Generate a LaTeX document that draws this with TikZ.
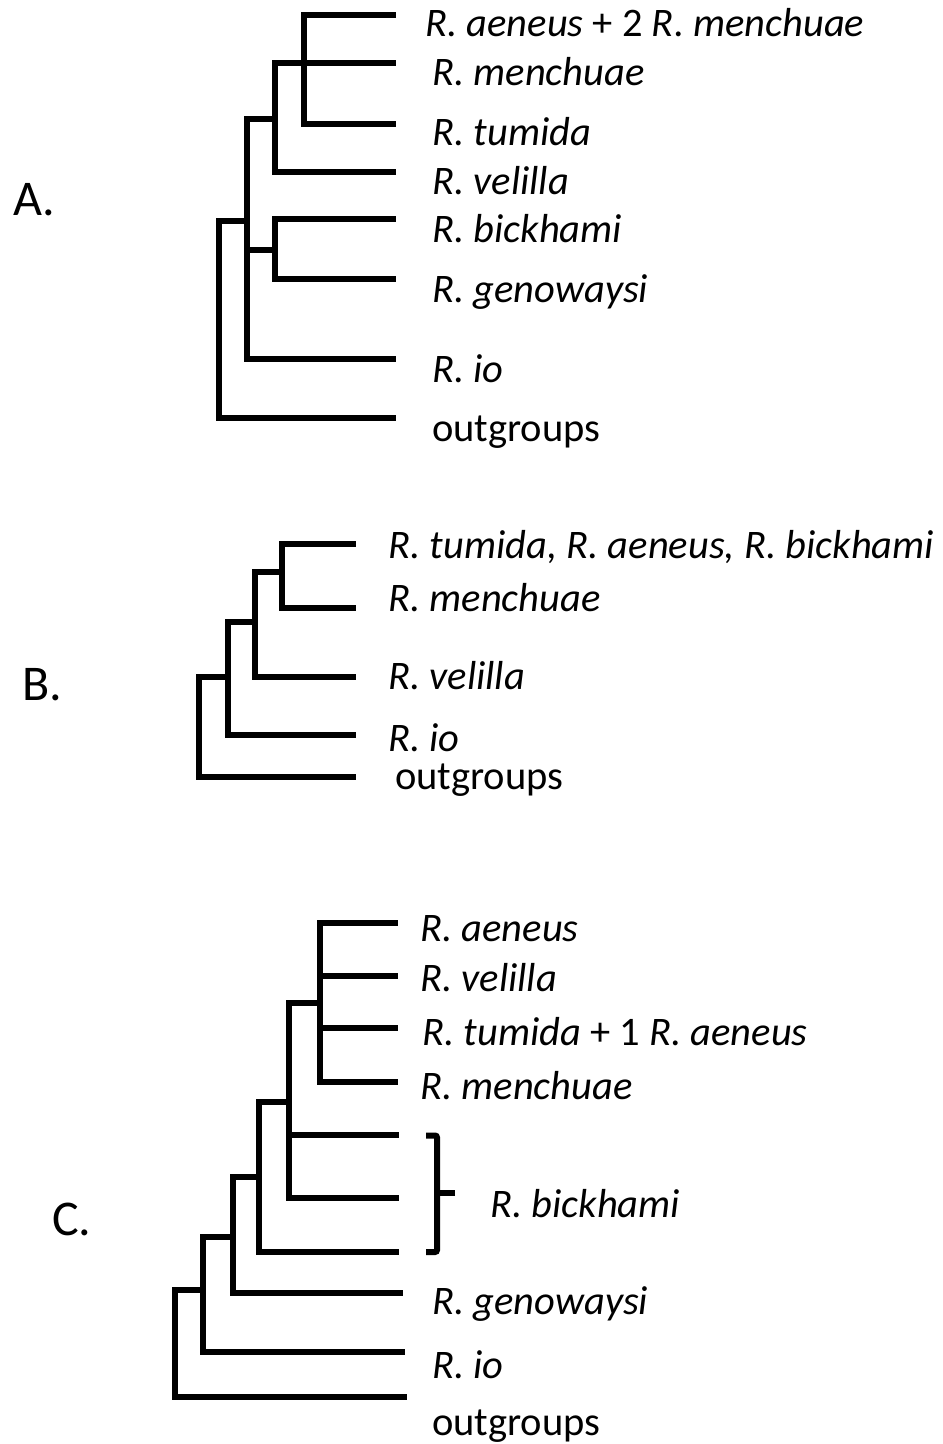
\documentclass[tikz,border=0pt]{standalone}
\usepackage{fontspec}
\setmainfont{Carlito}
\begin{document}
\begin{tikzpicture}[x=1pt,y=-1pt,
  branch/.style={line width=6.8pt, line cap=rect, line join=miter},
  bracket/.style={line width=6pt, line cap=butt, rounded corners=2pt},
  taxon/.style={anchor=base west, inner sep=0pt, font=\fontsize{40.5}{42}\selectfont\itshape},
  plain/.style={anchor=base west, inner sep=0pt, font=\fontsize{40.5}{42}\selectfont},
  panel/.style={anchor=base west, inner sep=0pt, font=\fontsize{50}{52}\selectfont}]
\useasboundingbox (0,0) rectangle (943,1444);

% ---------- Tree A ----------
\coordinate (rA)  at (219,221);
\coordinate (nA1) at (247,221);
\coordinate (nA2) at (275,119);
\coordinate (nA3) at (275,250);
\coordinate (nA4) at (304,63);
\coordinate (tA1) at (393,15);
\coordinate (tA2) at (393,63);
\coordinate (tA3) at (393,124);
\coordinate (tA4) at (393,172);
\coordinate (tA5) at (393,219);
\coordinate (tA6) at (393,279);
\coordinate (tA7) at (393,359);
\coordinate (tA8) at (393,418);

\draw[branch] (rA) |- (nA1);
\draw[branch] (rA) |- (tA8);
\draw[branch] (nA1) |- (nA2);
\draw[branch] (nA1) |- (nA3);
\draw[branch] (nA1) |- (tA7);
\draw[branch] (nA2) |- (nA4);
\draw[branch] (nA2) |- (tA2);
\draw[branch] (nA2) |- (tA4);
\draw[branch] (nA4) |- (tA1);
\draw[branch] (nA4) |- (tA3);
\draw[branch] (nA3) |- (tA5);
\draw[branch] (nA3) |- (tA6);

\node[panel] (labA) at (13,215) {A.};
\node[plain] (lA1) at (425,36) {\textit{R. aeneus} + 2 \textit{R. menchuae}};
\node[taxon] (lA2) at (432,85) {R. menchuae};
\node[taxon] (lA3) at (432,145) {R. tumida};
\node[taxon] (lA4) at (432,194) {R. velilla};
\node[taxon] (lA5) at (432,242) {R. bickhami};
\node[taxon] (lA6) at (432,302) {R. genowaysi};
\node[taxon] (lA7) at (432,382) {R. io};
\node[plain] (lA8) at (432,441) {outgroups};

% ---------- Tree B ----------
\coordinate (rB)  at (199,677);
\coordinate (nB1) at (228,677);
\coordinate (nB2) at (255,622);
\coordinate (nB3) at (282,572);
\coordinate (tB1) at (353,544);
\coordinate (tB2) at (353,608);
\coordinate (tB3) at (353,677);
\coordinate (tB4) at (353,735);
\coordinate (tB5) at (353,777);

\draw[branch] (rB) |- (nB1);
\draw[branch] (rB) |- (tB5);
\draw[branch] (nB1) |- (nB2);
\draw[branch] (nB1) |- (tB4);
\draw[branch] (nB2) |- (nB3);
\draw[branch] (nB2) |- (tB3);
\draw[branch] (nB3) |- (tB1);
\draw[branch] (nB3) |- (tB2);

\node[panel] (labB) at (22,700) {B.};
\node[taxon] (lB1) at (388,558) {R. tumida, R. aeneus, R. bickhami};
\node[taxon] (lB2) at (388,611) {R. menchuae};
\node[taxon] (lB3) at (388,689) {R. velilla};
\node[taxon] (lB4) at (388,751) {R. io};
\node[plain] (lB5) at (395,789) {outgroups};

% ---------- Tree C ----------
\coordinate (rC)  at (175,1290);
\coordinate (nC1) at (203,1290);
\coordinate (nC2) at (233,1237);
\coordinate (nC3) at (259,1177);
\coordinate (nC4) at (289,1102);
\coordinate (nC5) at (320,1003);
\coordinate (tC1) at (395,923);
\coordinate (tC2) at (395,976);
\coordinate (tC3) at (395,1028);
\coordinate (tC4) at (395,1082);
\coordinate (tC5) at (396,1135);
\coordinate (tC6) at (396,1198);
\coordinate (tC7) at (396,1252);
\coordinate (tC8) at (400,1293);
\coordinate (tC9) at (402,1352);
\coordinate (tC10) at (404,1397);

\draw[branch] (rC) |- (nC1);
\draw[branch] (rC) |- (tC10);
\draw[branch] (nC1) |- (nC2);
\draw[branch] (nC1) |- (tC9);
\draw[branch] (nC2) |- (nC3);
\draw[branch] (nC2) |- (tC8);
\draw[branch] (nC3) |- (nC4);
\draw[branch] (nC3) |- (tC7);
\draw[branch] (nC4) |- (nC5);
\draw[branch] (nC4) |- (tC5);
\draw[branch] (nC4) |- (tC6);
\draw[branch] (nC5) |- (tC1);
\draw[branch] (nC5) |- (tC2);
\draw[branch] (nC5) |- (tC3);
\draw[branch] (nC5) |- (tC4);

% bracket grouping the three R. bickhami tips
\coordinate (bTop) at (426,1135.5);
\coordinate (bBot) at (426,1252);
\coordinate (bTick) at (455,1193);
\draw[bracket] (bTop) -- (437,1135.5) -- (437,1252) -- (bBot);
\draw[bracket] (bTick) -- (437,1193);

\node[panel] (labC) at (52,1235) {C.};
\node[taxon] (lC1) at (420,941) {R. aeneus};
\node[taxon] (lC2) at (420,991) {R. velilla};
\node[plain] (lC3) at (422,1045) {\textit{R. tumida} + 1 \textit{R. aeneus}};
\node[taxon] (lC4) at (420,1099) {R. menchuae};
\node[taxon] (lC5) at (490,1217) {R. bickhami};
\node[taxon] (lC6) at (432,1314) {R. genowaysi};
\node[taxon] (lC7) at (432,1378) {R. io};
\node[plain] (lC8) at (432,1435) {outgroups};
\end{tikzpicture}
\end{document}
